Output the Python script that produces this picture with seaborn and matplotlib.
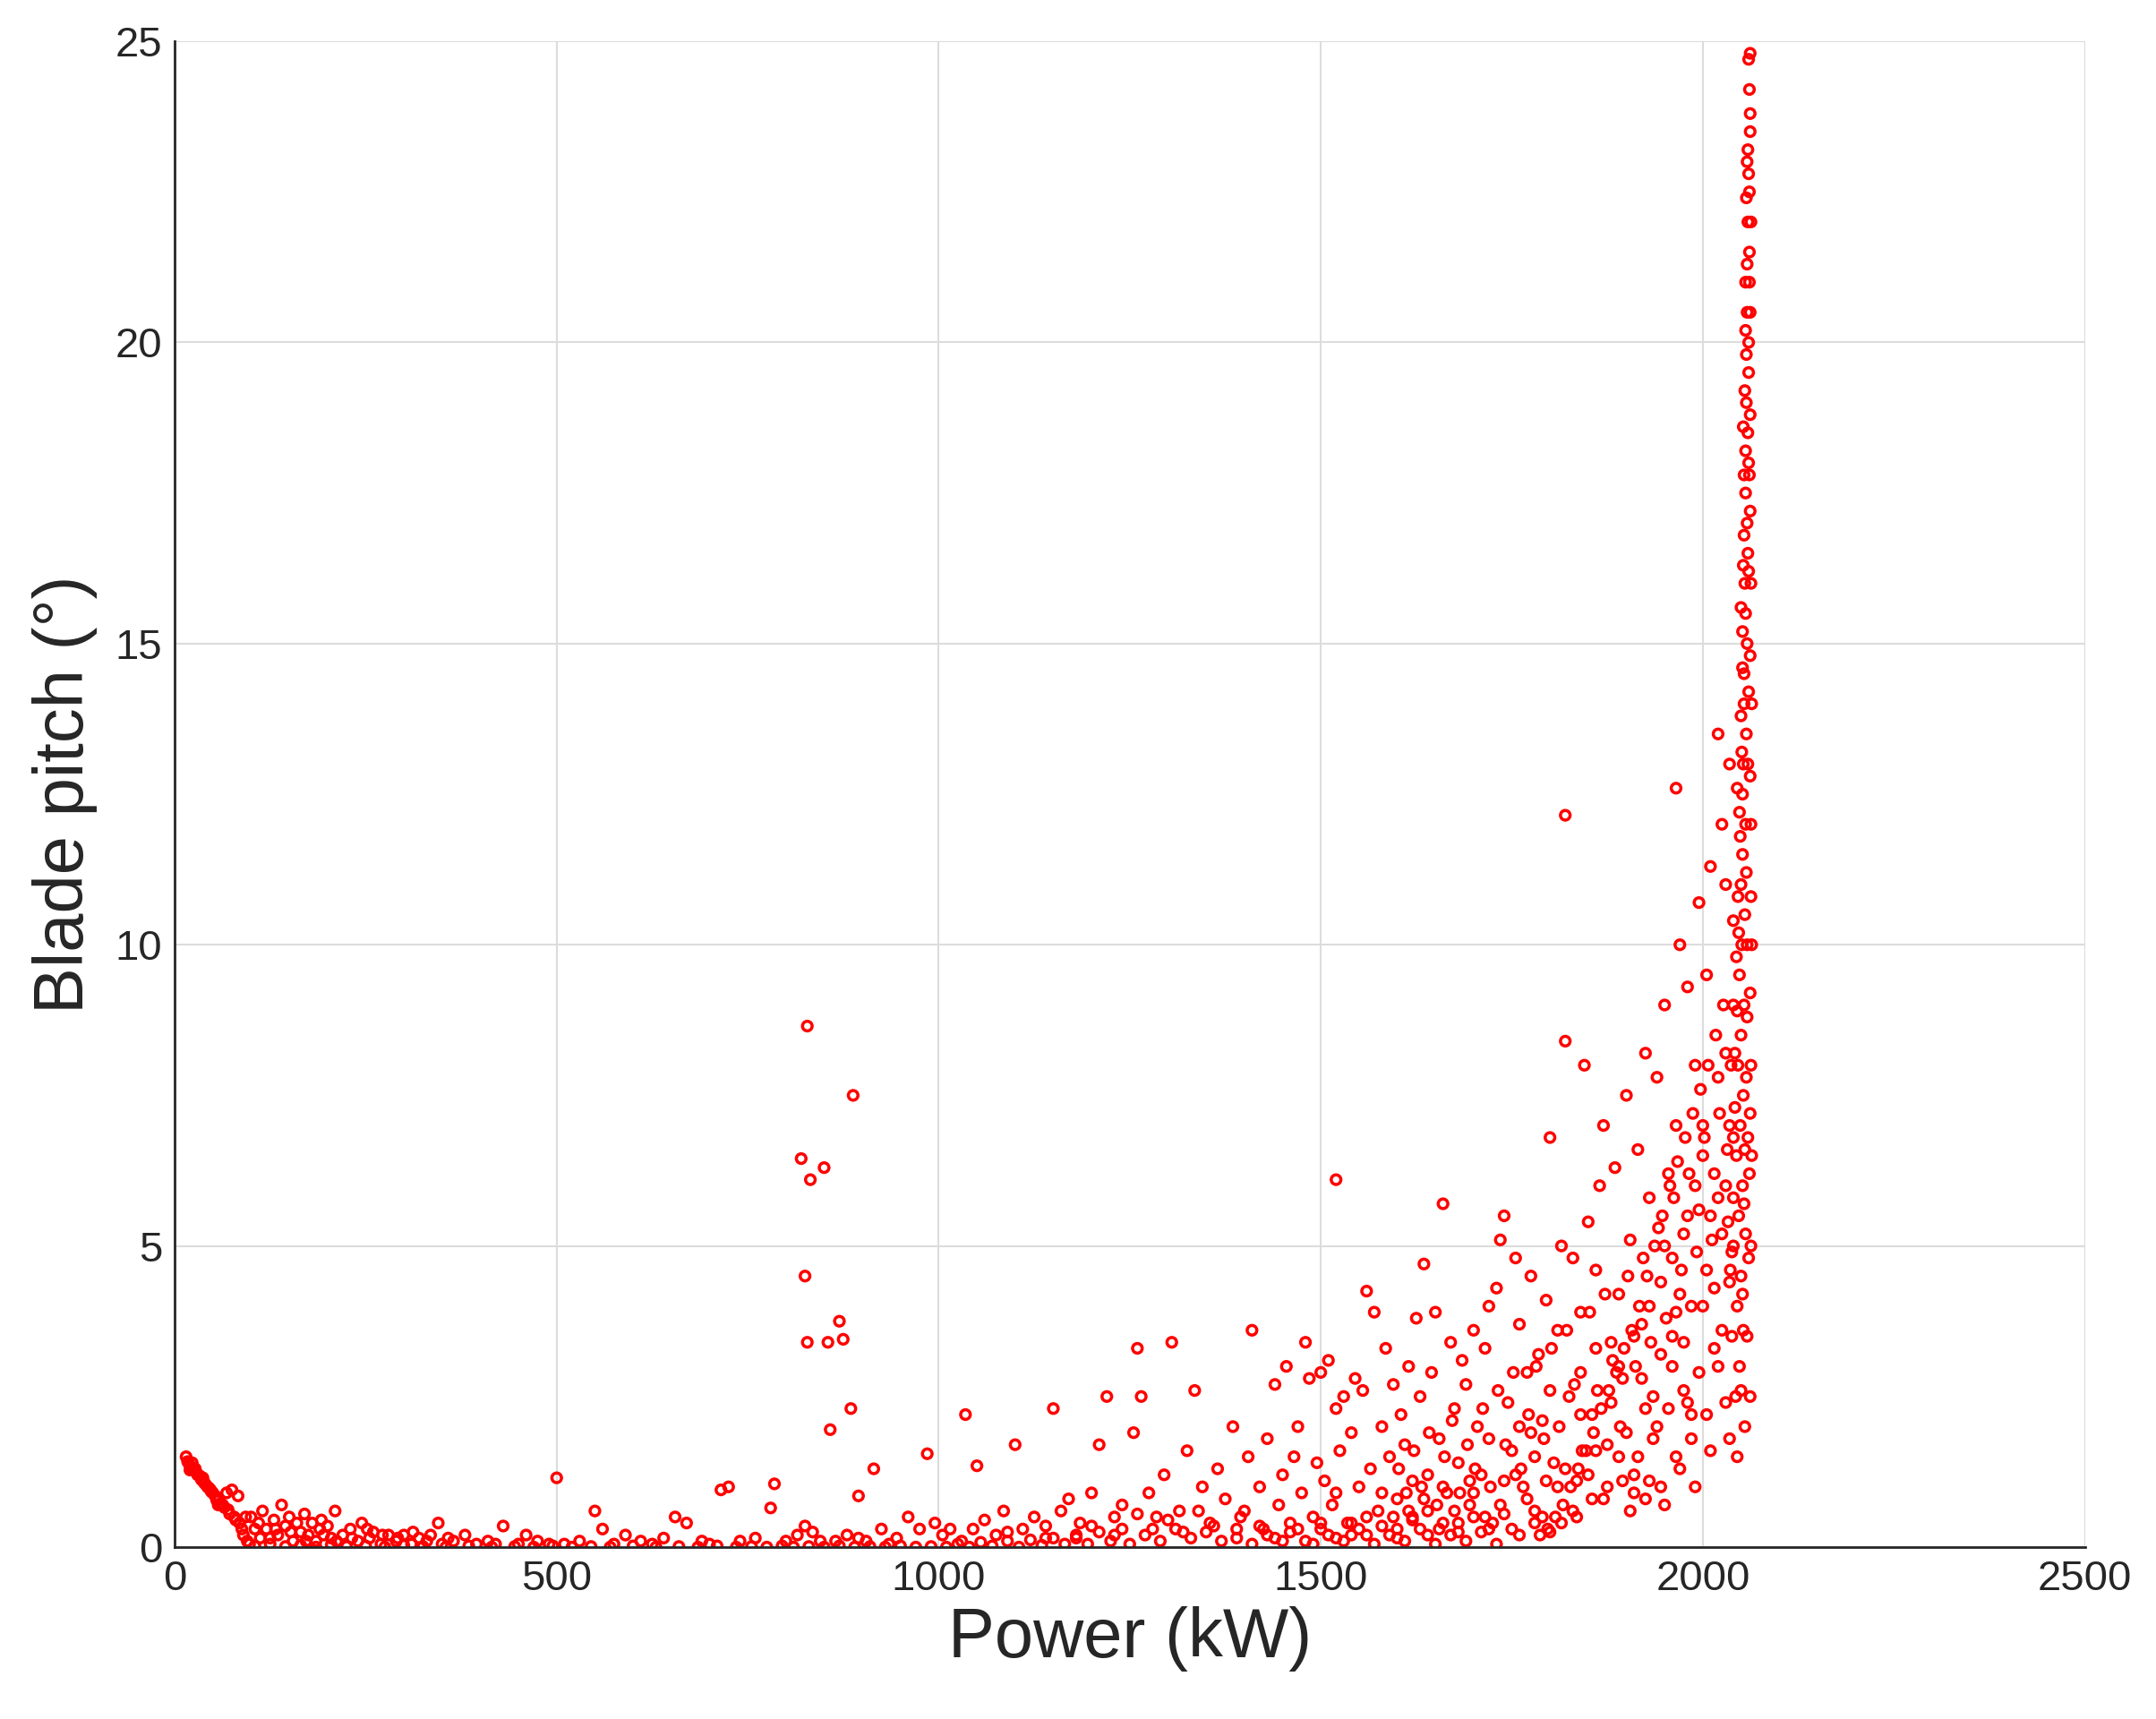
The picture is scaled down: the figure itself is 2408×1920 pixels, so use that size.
import matplotlib
matplotlib.use("Agg")
import matplotlib.pyplot as plt
import seaborn as sns
import pandas as pd

# Low-power start curve
low_pts = [(15,1.5),(17,1.42),(19,1.38),(21,1.33),(23,1.4),(25,1.28),(28,1.25),(30,1.2),(33,1.18),(35,1.12),
           (38,1.08),(40,1.05),(43,1.0),(45,0.98),(48,0.92),(50,0.9),(53,0.85),(55,0.78),(58,0.8),(60,0.72),
           (63,0.7),(65,0.66),(68,0.9),(70,0.62),(72,0.55),(75,0.95),(78,0.5),(80,0.45),(83,0.85),(85,0.4),
           (88,0.3),(90,0.2),(93,0.5),(95,0.1),(98,0.05),(20,1.28),(27,1.3),(37,1.15),(47,0.95),(57,0.7)]
# Floor region (100 - 1400 kW)
floor_pts = [(100,0.5),(105,0.3),(110,0.4),(115,0.6),(120,0.3),(125,0.15),(130,0.45),(135,0.2),(140,0.7),(145,0.35),
             (150,0.5),(155,0.1),(160,0.4),(165,0.25),(170,0.55),(175,0.2),(180,0.4),(185,0.1),(190,0.3),(195,0.2),
             (200,0.35),(205,0.15),(210,0.6),(220,0.2),(230,0.3),(240,0.1),(245,0.4),(255,0.15),(260,0.25),(270,0.05),
             (280,0.2),(290,0.1),(300,0.2),(310,0.05),(320,0.15),(330,0.1),(345,0.4),(350,0.05),(365,0.1),(380,0.2),
             (395,0.05),(410,0.1),(420,0.05),(430,0.35),(450,0.05),(460,0.2),(475,0.1),(490,0.05),(500,1.15),(510,0.05),
             (530,0.1),(550,0.6),(560,0.3),(575,0.05),(590,0.2),(610,0.1),(625,0.05),(640,0.15),(655,0.5),(670,0.4),
             (690,0.1),(700,0.05),(715,0.95),(725,1.0),(740,0.1),(760,0.15),(780,0.65),(785,1.05),(800,0.1),(815,0.2),
             (825,0.35),(835,0.25),(845,0.1),(865,0.1),(880,0.2),(895,0.15),(905,0.1),(915,1.3),(925,0.3),(935,0.05),
             (945,0.15),(960,0.5),(975,0.3),(985,1.55),(995,0.4),(1005,0.2),(1015,0.3),(1030,0.1),(1035,2.2),(1045,0.3),
             (1050,1.35),(1060,0.45),(1075,0.2),(1085,0.6),(1100,1.7),(1110,0.3),(1125,0.5),(1140,0.35),(1150,2.3),(1160,0.6),
             (1170,0.8),(1185,0.4),(1200,0.9),(1210,1.7),(1220,2.5),(1230,0.5),(1240,0.7),(1255,1.9),(1260,3.3),(1265,2.5),
             (1275,0.9),(1285,0.5),(1295,1.2),(1305,3.4),(1315,0.6),(1325,1.6),(1335,2.6),(1345,1.0),(1355,0.4),(1365,1.3),
             (1375,0.8),(1385,2.0),(1395,0.5),(112,0.15),(132,0.3),(152,0.25),(172,0.1),(192,0.45),(212,0.1),(232,0.15),
             (252,0.3),(272,0.2),(292,0.15),(312,0.25),(335,0.2),(358,0.15),(1180,0.15),(1230,0.2),(1280,0.3),(1320,0.25),
             (1360,0.35),(1390,0.15),(1340,0.6),(1300,0.45),(1260,0.55),(1200,0.35),(1140,0.15),(1090,0.25)]
# Baseline near zero (dense row)
base_pts = [(105,0.02),(125,0.05),(145,0.01),(165,0.03),(185,0.0),(205,0.04),(225,0.01),(250,0.02),(275,0.0),(300,0.03),
            (325,0.01),(355,0.0),(385,0.02),(415,0.0),(445,0.01),(470,0.0),(495,0.02),(520,0.0),(545,0.01),(570,0.0),
            (600,0.02),(630,0.0),(660,0.01),(685,0.0),(710,0.02),(735,0.0),(755,0.01),(775,0.0),(795,0.02),(810,0.0),
            (830,0.01),(850,0.0),(870,0.02),(890,0.0),(910,0.01),(930,0.0),(950,0.02),(970,0.0),(990,0.01),(1010,0.0),
            (1025,0.05),(1040,0.0),(1055,0.08),(1070,0.02),(1090,0.1),(1105,0.0),(1120,0.12),(1135,0.03),(1150,0.15),(1165,0.05),
            (1180,0.2),(1195,0.05),(1210,0.25),(1225,0.1),(1240,0.3),(1250,0.05),(1270,0.2),(1290,0.1),(1310,0.3),(1330,0.15),
            (1350,0.25),(1370,0.1),(1390,0.3),(1410,0.05),(1430,0.2),(1450,0.1),(1470,0.3),(1490,0.05),(1510,0.2),(1530,0.1),
            (1550,0.3),(1570,0.05),(1590,0.2),(1610,0.1),(1630,0.3),(1650,0.05),(1670,0.2),(1690,0.1),(1710,0.25),(1730,0.05),
            (1420,0.35),(1440,0.15),(1460,0.25),(1480,0.1),(1500,0.3),(1520,0.15),(1540,0.4),(1560,0.2),(1580,0.35),(1600,0.15),
            (1620,0.45),(1640,0.2),(1660,0.4),(1680,0.25),(1700,0.5),(1720,0.3),(1740,0.55),(1760,0.2),(1780,0.4),(1800,0.25)]
# Outliers around 800-900 kW and isolated highs
mid_pts = [(828,8.65),(820,6.45),(850,6.3),(832,6.1),(825,4.5),(870,3.75),(875,3.45),(828,3.4),(855,3.4),(858,1.95),
           (885,2.3),(888,7.5),(895,0.85),(1520,6.1),(1820,12.15),(1965,12.6)]
# Main cloud 1400 - 2040 kW
cloud_pts = [(1400,0.6),(1405,1.5),(1410,3.6),(1420,1.0),(1425,0.3),(1430,1.8),(1440,2.7),(1445,0.7),(1450,1.2),(1455,3.0),
             (1460,0.4),(1465,1.5),(1470,2.0),(1475,0.9),(1480,3.4),(1485,2.8),(1490,0.5),(1495,1.4),(1500,2.9),(1505,1.1),
             (1510,3.1),(1515,0.7),(1520,2.3),(1525,1.6),(1530,2.5),(1535,0.4),(1540,1.9),(1545,2.8),(1550,1.0),(1555,2.6),
             (1560,4.25),(1565,1.3),(1570,3.9),(1575,0.6),(1580,2.0),(1585,3.3),(1590,1.5),(1595,2.7),(1600,0.8),(1605,2.2),
             (1610,1.7),(1615,3.0),(1620,0.5),(1625,3.8),(1630,2.5),(1635,4.7),(1640,1.2),(1645,2.9),(1650,3.9),(1655,1.8),
             (1660,5.7),(1665,0.9),(1670,3.4),(1675,2.3),(1680,1.4),(1685,3.1),(1690,2.7),(1695,0.7),(1700,3.6),(1705,2.0),
             (1710,1.2),(1715,3.3),(1720,4.0),(1725,0.4),(1730,4.3),(1735,5.1),(1740,5.5),(1745,2.4),(1750,1.6),(1755,4.8),
             (1760,3.7),(1765,1.0),(1770,2.9),(1775,4.5),(1780,0.6),(1785,3.2),(1790,2.1),(1795,4.1),(1800,6.8),(1805,1.4),
             (1810,3.6),(1815,5.0),(1820,8.4),(1825,2.5),(1830,4.8),(1835,1.1),(1840,3.9),(1845,8.0),(1850,5.4),(1855,2.2),
             (1860,4.6),(1865,6.0),(1870,7.0),(1875,1.7),(1880,3.4),(1885,6.3),(1890,4.2),(1895,2.8),(1900,7.5),(1905,5.1),
             (1910,1.2),(1915,6.6),(1920,3.7),(1925,8.2),(1930,5.8),(1935,2.5),(1940,7.8),(1945,4.4),(1950,9.0),(1955,6.2),
             (1960,3.0),(1965,7.0),(1970,10.0),(1975,5.2),(1980,9.3),(1985,2.2),(1990,8.0),(1995,10.7),(2000,6.5),(2005,9.5),
             (2010,11.3),(2015,4.3),(2020,13.5),(2025,12.0),(2030,11.0),(2035,13.0),(2040,9.0),
             (1700,0.9),(1720,1.8),(1740,1.1),(1760,2.0),(1780,1.5),(1800,2.6),(1820,1.3),(1840,2.2),(1860,1.6),(1880,2.4),
             (1900,1.9),(1920,2.8),(1940,2.0),(1960,3.5),(1980,2.4),(2000,4.0),(2020,3.0),(2040,5.0),
             (1750,0.3),(1770,0.8),(1790,0.5),(1810,1.0),(1830,0.6),(1850,1.2),(1870,0.8),(1890,1.5),(1910,0.9),(1930,1.1),
             (1950,0.7),(1970,1.3),(1990,1.0),(2010,1.6),(2030,2.4),(1960,4.8),(1980,5.5),(2000,7.0),(2020,7.8),(2030,6.0),
             (1890,3.0),(1910,3.5),(1930,4.0),(1950,5.0),(1970,4.2),(1990,6.0),(2010,5.5),(2020,5.8),(1840,2.9),(1860,3.3),
             (1600,0.3),(1620,1.1),(1640,0.6),(1660,1.0),(1680,0.4),(1560,0.5),(1580,0.9),(1500,0.4),(1520,0.9),(1540,0.2),
             (1602,1.3),(1612,0.9),(1622,1.6),(1632,1.0),(1642,1.9),(1652,0.7),(1662,1.5),(1672,2.1),(1682,0.9),(1692,1.7),
             (1702,1.3),(1712,2.3),(1722,1.0),(1732,2.6),(1742,1.7),(1752,2.9),(1762,1.3),(1772,2.2),(1782,3.0),(1792,1.8),
             (1802,3.3),(1812,2.0),(1822,3.6),(1832,2.7),(1842,1.6),(1852,3.9),(1862,2.6),(1872,4.2),(1882,3.1),(1892,2.0),
             (1902,4.5),(1912,3.0),(1922,4.8),(1932,3.4),(1942,5.3),(1952,3.8),(1962,5.8),(1972,4.6),(1982,6.2),(1992,4.9),
             (2002,6.8),(2012,5.1),(2022,7.2),(2032,6.6),(2037,8.0),(2027,9.0),(2017,8.5),(2007,8.0),(1997,7.6),(1987,7.2),
             (1977,6.8),(1967,6.4),(1957,6.0),(1947,5.5),(1937,5.0),(1927,4.5),(1917,4.0),(1907,3.6),(1897,3.3),(1887,2.9),
             (1877,2.6),(1867,2.3),(1857,1.9),(1847,1.6),(1837,1.3),(1827,1.0),(1817,0.7),(1807,0.5),(1797,0.3),(1787,0.2),
             (1905,0.6),(1925,0.8),(1945,1.0),(1965,1.5),(1985,1.8),(2005,2.2),(2025,3.6),(2035,4.4),(2015,3.3),(1995,2.9),
             (1975,2.6),(1955,2.3),(1935,1.8),(1915,1.5),(1895,1.1),(1875,1.0),(1855,0.8),(1835,0.5),(1815,0.4),(1795,1.1),
             (1775,1.9),(1755,1.2),(1735,0.7),(1715,0.5),(1695,1.1),(1675,0.6),(1655,0.3),(1635,0.8),(1615,0.6),(1595,0.5),
             (1985,4.0),(1965,3.9),(1945,3.2),(1925,2.3),(2005,4.6),(2025,5.2),(2035,7.0),(2015,6.2),(1995,5.6),(1975,3.4)]
# Vertical rated-power band
rated_pts = [(2045,1.5),(2048,3.0),(2050,4.5),(2052,6.0),(2053,7.5),(2054,9.0),(2055,10.5),(2056,12.0),(2057,13.5),(2058,15.0),
             (2059,16.5),(2060,18.0),(2060,19.5),(2061,21.0),(2061,22.5),(2062,23.5),(2062,24.8),(2060,24.7),(2058,23.0),(2059,22.0),
             (2058,20.5),(2057,19.0),(2056,17.5),(2055,16.0),(2054,14.5),(2053,13.0),(2052,11.5),(2051,10.0),(2050,8.5),(2049,7.0),
             (2047,5.5),(2045,4.0),(2043,2.5),(2044,6.5),(2046,8.0),(2048,9.5),(2050,11.0),(2052,12.5),(2054,14.0),(2056,15.5),
             (2058,17.0),(2059,18.5),(2060,20.0),(2061,21.5),(2062,23.8),(2038,3.5),(2040,6.8),(2042,8.2),(2044,9.8),(2046,10.8),
             (2048,12.2),(2050,13.8),(2052,15.2),(2054,16.8),(2056,18.2),(2057,19.8),(2058,21.3),(2060,22.8),(2035,1.8),(2036,4.6),
             (2063,16.0),(2063,12.0),(2063,8.0),(2063,5.0),(2062,2.5),(2064,14.0),(2064,10.0),(2064,6.5),
             (2055,2.0),(2058,3.5),(2060,4.8),(2061,6.2),(2062,7.2),(2062,9.2),(2063,10.8),(2062,12.8),(2062,14.8),(2062,17.2),
             (2062,18.8),(2062,20.5),(2063,22.0),(2057,22.4),(2056,21.0),(2055,19.2),(2054,17.8),(2053,16.3),(2052,14.6),(2051,13.2),
             (2049,11.8),(2047,10.2),(2045,8.9),(2042,7.3),(2040,5.8),(2038,4.9),(2033,5.4),(2030,8.2),(2040,10.4),(2045,12.6),
             (2050,15.6),(2053,18.6),(2056,20.2),(2059,23.2),(2061,24.2),(2057,11.2),(2058,8.8),(2059,6.8),(2056,5.2),(2053,3.6),
             (2050,2.6),(2060,14.2),(2061,17.8),(2060,16.2),(2059,13.0),(2058,10.0),(2057,7.8),(2055,6.6),(2054,5.7),(2052,4.2)]

groups = [low_pts, floor_pts, base_pts, mid_pts, cloud_pts, rated_pts]
power = [p[0] for g in groups for p in g]
pitch = [p[1] for g in groups for p in g]
df = pd.DataFrame({"Power": power, "Pitch": pitch})

sns.set_style("white")
plt.rcParams['font.family'] = ['Liberation Sans', 'DejaVu Sans']
fig = plt.figure(figsize=(24.08, 19.2), dpi=100)
ax = fig.add_axes([0.081, 0.1, 0.886, 0.876])
sns.scatterplot(data=df, x="Power", y="Pitch", ax=ax, marker="o", s=60,
                facecolors="none", edgecolor="#ff0000", linewidth=2.5, legend=False)
ax.set_xlim(0, 2500)
ax.set_ylim(0, 25)
ax.set_xticks([0, 500, 1000, 1500, 2000, 2500])
ax.set_yticks([0, 5, 10, 15, 20, 25])
ax.grid(True, color="#dcdcdc", linewidth=1.5)
ax.set_axisbelow(True)
for s in ["top", "right"]:
    ax.spines[s].set_visible(False)
for s in ["left", "bottom"]:
    ax.spines[s].set_color("#262626")
    ax.spines[s].set_linewidth(2)
ax.tick_params(direction="in", length=14, width=2, colors="#262626", labelsize=34, pad=10)
ax.set_xlabel("Power (kW)", fontsize=56, color="#262626", labelpad=6)
ax.set_ylabel("Blade pitch (°)", fontsize=56, color="#262626", labelpad=14)
fig.savefig("out.png", dpi=100)
